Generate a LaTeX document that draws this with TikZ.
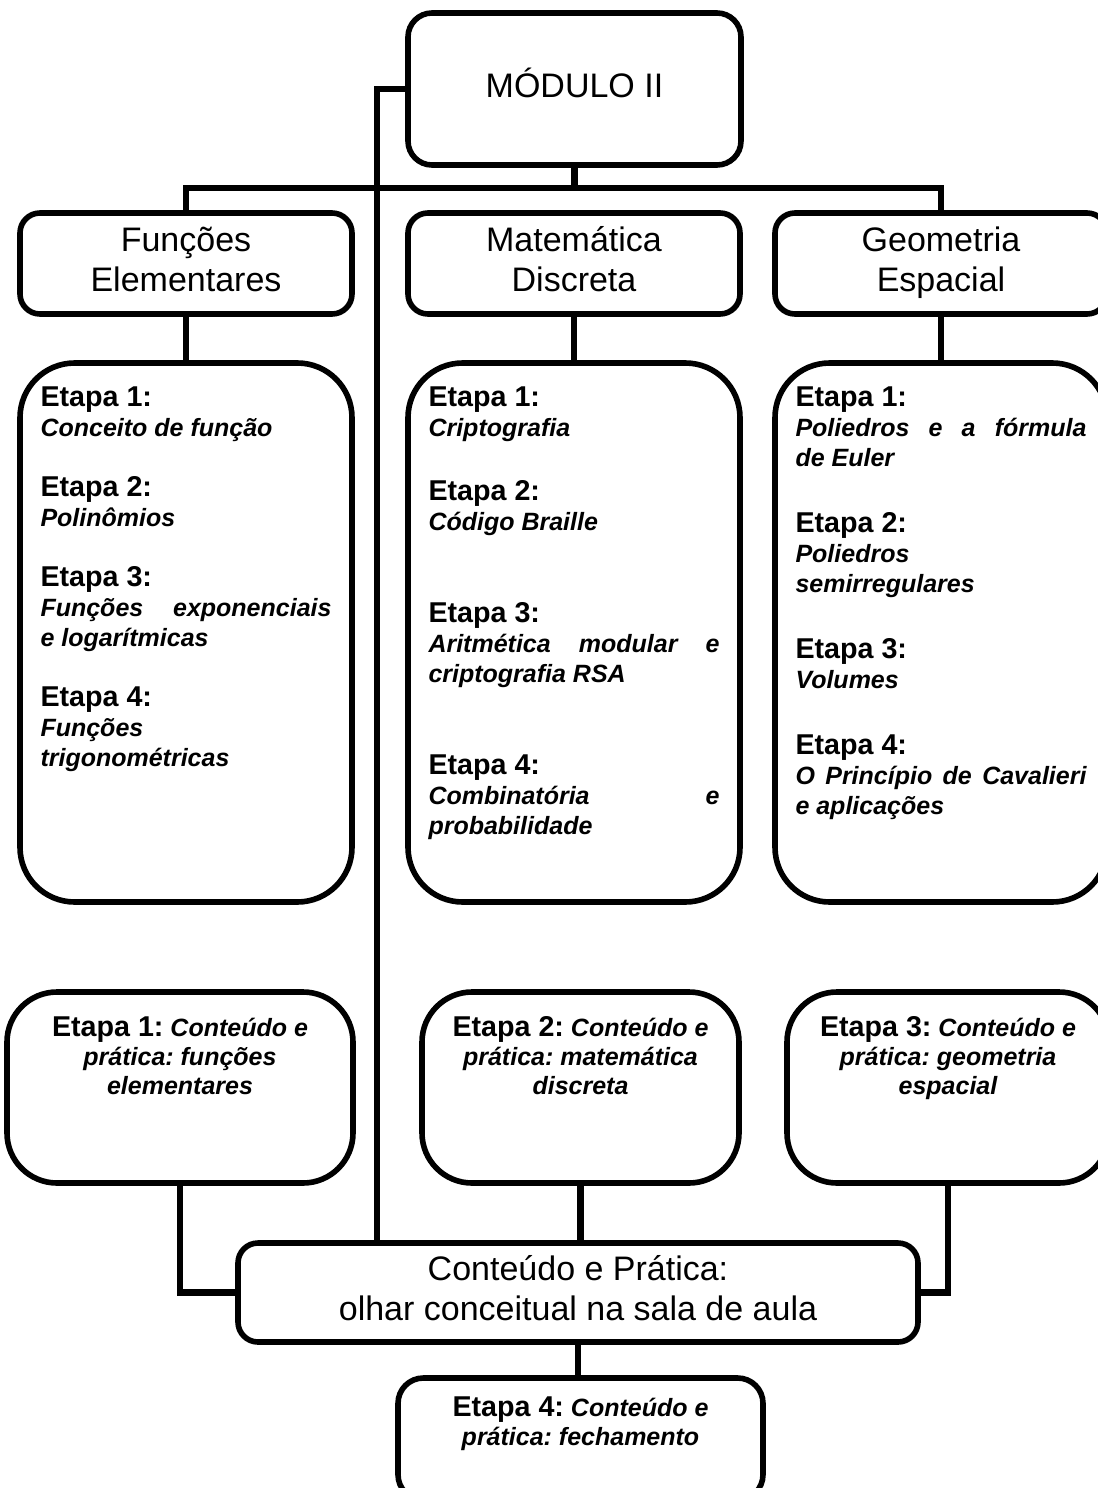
\documentclass[tikz,border=0pt]{standalone}
\usepackage{fontspec}
\setmainfont{Liberation Sans}
\frenchspacing

\newcommand{\etp}[1]{{\fontsize{21.5}{22.5}\selectfont\bfseries Etapa #1:}}
\newcommand{\tema}[1]{{\fontsize{18.75}{22.5}\selectfont\bfseries\itshape #1}}
\newcommand{\coluna}[1]{\begin{minipage}[t][369pt][t]{218.25pt}\fontsize{18.75}{22.5}\selectfont #1\end{minipage}}
\newcommand{\rodape}[2]{\begin{minipage}[t][#1][t]{230pt}\centering\fontsize{18.75}{21.75}\selectfont #2\end{minipage}}

\begin{document}
\begin{tikzpicture}[x=0.75pt,y=-0.75pt,
  caixa/.style={draw,line width=4.2pt,inner sep=0pt},
  titulo/.style={caixa,align=center,font=\fontsize{25.5}{30.5}\selectfont},
  topo/.style={titulo,rounded corners=15pt,minimum width=249pt,minimum height=75.75pt},
  grande/.style={caixa,rounded corners=41pt,minimum width=249pt,minimum height=404.25pt},
  baixo/.style={caixa,rounded corners=37.5pt,minimum height=143.25pt},
  ligacao/.style={line width=5pt}]
\useasboundingbox (0,0) rectangle (1097,1488);

\node[titulo,rounded corners=18pt,minimum width=249.75pt,minimum height=114pt] (modulo) at (574.5,89) {\strut MÓDULO II};

\node[topo] (fe) at (186,263.5) {\strut Funções\\\strut Elementares};
\node[topo] (md) at (574,263.5) {\strut Matemática\\\strut Discreta};
\node[topo] (ge) at (941,263.5) {\strut Geometria\\\strut Espacial};

\node[grande] (fe1) at (186,632.5) {\coluna{%
\etp{1}\par\tema{Conceito de função}\par\vspace{22.5pt}
\etp{2}\par\tema{Polinômios}\par\vspace{22.5pt}
\etp{3}\par\tema{Funções exponenciais\linebreak e logarítmicas}\par\vspace{22.5pt}
\etp{4}\par\tema{Funções\\trigonométricas}\par}};
\node[grande] (md1) at (574,632.5) {\coluna{%
\etp{1}\par\tema{Criptografia}\par\vspace{26pt}
\etp{2}\par\tema{Código Braille}\par\vspace{46.5pt}
\etp{3}\par\tema{Aritmética modular e\linebreak criptografia RSA}\par\vspace{46.5pt}
\etp{4}\par\tema{Combinatória e\linebreak probabilidade}\par}};
\node[grande] (ge1) at (941,632.5) {\coluna{%
\etp{1}\par\tema{Poliedros e a fórmula\linebreak de Euler}\par\vspace{27pt}
\etp{2}\par\tema{Poliedros\\semirregulares}\par\vspace{27pt}
\etp{3}\par\tema{Volumes}\par\vspace{27pt}
\etp{4}\par\tema{O Princípio de Cavalieri\linebreak e aplicações}\par}};

\node[baixo,minimum width=259.5pt] (etA) at (180,1087.5) {\rodape{106.5pt}{%
\etp{1} \tema{Conteúdo e}\\\tema{prática: funções}\\\tema{elementares}}};
\node[baixo,minimum width=237.75pt] (etB) at (580.5,1087.5) {\rodape{106.5pt}{%
\etp{2} \tema{Conteúdo e}\\\tema{prática: matemática}\\\tema{discreta}}};
\node[baixo,minimum width=241.5pt] (etC) at (948,1087.5) {\rodape{106.5pt}{%
\etp{3} \tema{Conteúdo e}\\\tema{prática: geometria}\\\tema{espacial}}};

\node[titulo,rounded corners=15pt,minimum width=510pt,minimum height=74.25pt] (conteudo) at (578,1292.5)
  {\strut Conteúdo e Prática:\\\strut olhar conceitual na sala de aula};

\node[caixa,rounded corners=19pt,minimum width=273.75pt,minimum height=91.5pt] (et4) at (580.5,1439) {\rodape{63.7pt}{%
\etp{4} \tema{Conteúdo e}\\\tema{prática: fechamento}}};

\coordinate (barra) at (0,188);
\coordinate (eixo) at (377,0);
\draw[ligacao] (modulo.south) -- (modulo.south |- barra);
\draw[ligacao] (fe.north) -- (fe.north |- barra) -- (ge.north |- barra) -- (ge.north);
\draw[ligacao] (fe.south) -- (fe1.north);
\draw[ligacao] (md.south) -- (md1.north);
\draw[ligacao] (ge.south) -- (ge1.north);
\draw[ligacao] (modulo.west) -- (modulo.west -| eixo) -- (conteudo.north -| eixo);
\draw[ligacao] (etA.south) |- (conteudo.west);
\draw[ligacao] (etB.south) -- (etB.south |- conteudo.north);
\draw[ligacao] (etC.south) |- (conteudo.east);
\draw[ligacao] (conteudo.south) -- (conteudo.south |- et4.north);
\end{tikzpicture}
\end{document}
